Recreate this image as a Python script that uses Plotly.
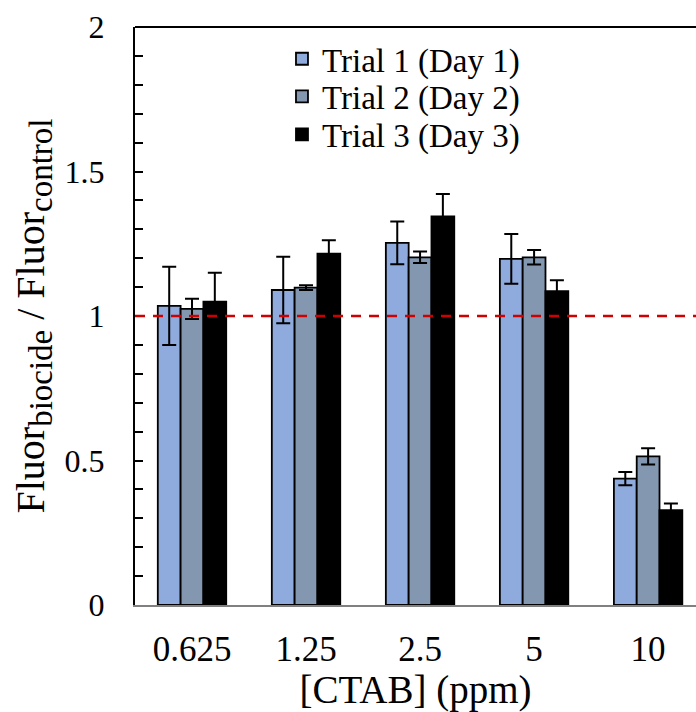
import plotly.graph_objects as go

categories = ["0.625", "1.25", "2.5", "5", "10"]
series_names = ["Trial 1 (Day 1)", "Trial 2 (Day 2)", "Trial 3 (Day 3)"]
trial1 = [1.035, 1.09, 1.253, 1.198, 0.437]
trial1_err = [0.135, 0.115, 0.074, 0.086, 0.023]
trial2 = [1.025, 1.098, 1.203, 1.203, 0.514]
trial2_err = [0.035, 0.008, 0.02, 0.025, 0.028]
trial3 = [1.05, 1.216, 1.345, 1.086, 0.328]
trial3_err = [0.10, 0.046, 0.077, 0.038, 0.023]
colors = ["#8FAADC", "#8497B0", "#000000"]
y_ticks = [0, 0.5, 1, 1.5, 2]
y_tick_text = ["0", "0.5", "1", "1.5", "2"]
reference_level = 1.0

FONT = "Liberation Serif, Times New Roman, serif"
legend_ids = ["legend", "legend2", "legend3"]
legend_rows_y = [0.945, 0.880, 0.814]

fig = go.Figure()
for name, vals, errs, col, lg in zip(series_names, [trial1, trial2, trial3],
                                     [trial1_err, trial2_err, trial3_err],
                                     colors, legend_ids):
    fig.add_trace(go.Bar(
        x=categories, y=vals, name=name, legend=lg,
        marker=dict(color=col, line=dict(color="black", width=1.8)),
        error_y=dict(type="data", array=errs, visible=True,
                     color="black", thickness=2, width=7),
    ))

fig.add_shape(type="line", xref="paper", x0=0, x1=1, yref="y",
              y0=reference_level, y1=reference_level,
              line=dict(color="#D00000", width=2.5, dash="10px,8px"))
fig.add_shape(type="line", xref="paper", x0=0, x1=1, yref="paper",
              y0=1, y1=1, line=dict(color="black", width=2))

legend_common = dict(x=0.262, xanchor="left", yanchor="middle",
                     font=dict(family=FONT, size=33), bgcolor="rgba(0,0,0,0)",
                     itemwidth=30)
layout_legends = {lg: dict(legend_common, y=yy) for lg, yy in zip(legend_ids, legend_rows_y)}

y_title = ('Fluor<sub><span style="font-size:33px">biocide</span></sub> / '
           'Fluor<sub><span style="font-size:33px">control</span></sub>')

fig.update_layout(
    width=696, height=712,
    margin=dict(l=135, r=0, t=27, b=107),
    paper_bgcolor="white", plot_bgcolor="white",
    barmode="group", bargap=0.4, bargroupgap=0,
    font=dict(family=FONT, size=32, color="black"),
    showlegend=True,
    xaxis=dict(range=[-0.5, 4.42], showline=True, linecolor="#808080",
               linewidth=2, ticks="", showgrid=False, zeroline=False,
               tickfont=dict(size=35), ticklabelstandoff=12,
               title=dict(text="[CTAB] (ppm)", font=dict(size=39), standoff=0)),
    yaxis=dict(range=[0, 2], tickvals=y_ticks, ticktext=y_tick_text,
               showline=True, linecolor="black", linewidth=2,
               ticks="inside", ticklen=8, tickwidth=2, tickcolor="black",
               minor=dict(dtick=0.1, ticks="inside", ticklen=8, tickwidth=2,
                          tickcolor="black", showgrid=False),
               showgrid=False, zeroline=False,
               tickfont=dict(size=32), ticklabelstandoff=22,
               title=dict(text=y_title, font=dict(size=40), standoff=8)),
    **layout_legends,
)

fig.write_html("out.html")
